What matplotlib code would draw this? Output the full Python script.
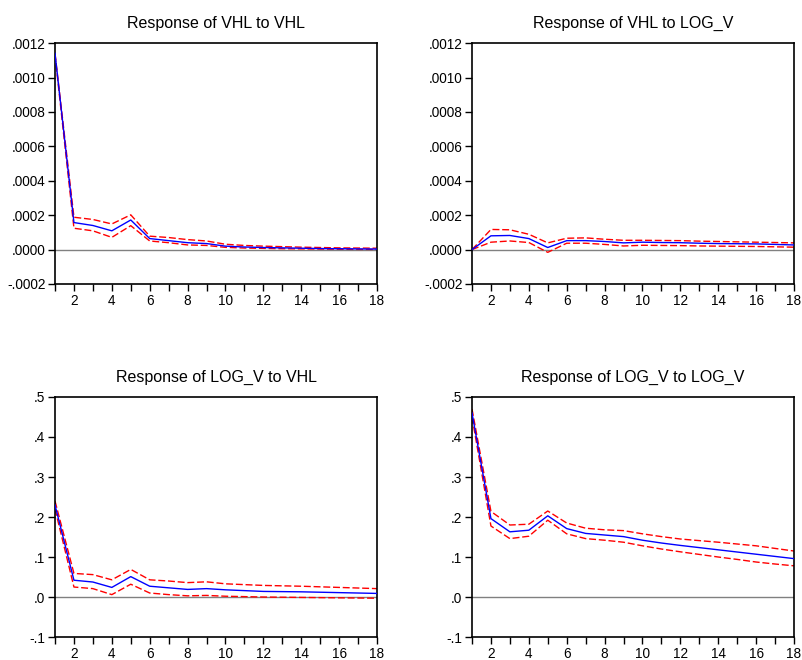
import matplotlib
matplotlib.use("Agg")
import matplotlib.pyplot as plt
from matplotlib.ticker import FuncFormatter

plt.rcParams["font.family"] = ["Liberation Sans", "DejaVu Sans"]

periods = list(range(1, 19))

# impulse responses (point estimate, upper and lower band)
vhl_vhl = [0.00114, 0.000157, 0.000140, 0.000109, 0.000172, 0.000064, 0.000052, 0.000040,
           0.000035, 0.000020, 0.000015, 0.000012, 0.000010, 0.000008, 0.000006, 0.000005,
           0.000004, 0.000003]
vhl_vhl_hi = [0.00114, 0.000188, 0.000175, 0.000149, 0.000202, 0.000078, 0.000070, 0.000058,
              0.000050, 0.000031, 0.000024, 0.000020, 0.000017, 0.000014, 0.000012, 0.000010,
              0.000009, 0.000008]
vhl_vhl_lo = [0.00113, 0.000124, 0.000109, 0.000071, 0.000139, 0.000050, 0.000040, 0.000027,
              0.000024, 0.000013, 0.000009, 0.000007, 0.000005, 0.000004, 0.000003, 0.000002,
              0.000001, 0.000001]

vhl_logv = [0.0, 0.000080, 0.000082, 0.000064, 0.000012, 0.000052, 0.000052, 0.000047,
            0.000039, 0.000043, 0.000041, 0.000040, 0.000037, 0.000035, 0.000034, 0.000033,
            0.000030, 0.000027]
vhl_logv_hi = [0.0, 0.000117, 0.000115, 0.000089, 0.000039, 0.000066, 0.000068, 0.000060,
               0.000054, 0.000054, 0.000053, 0.000052, 0.000049, 0.000047, 0.000045, 0.000043,
               0.000041, 0.000039]
vhl_logv_lo = [0.0, 0.000043, 0.000050, 0.000041, -0.000016, 0.000037, 0.000037, 0.000030,
               0.000021, 0.000025, 0.000024, 0.000023, 0.000021, 0.000020, 0.000019, 0.000018,
               0.000016, 0.000014]

logv_vhl = [0.230, 0.042, 0.0375, 0.024, 0.051, 0.027, 0.023, 0.019, 0.021, 0.018, 0.016,
            0.014, 0.0135, 0.013, 0.012, 0.011, 0.010, 0.009]
logv_vhl_hi = [0.240, 0.059, 0.056, 0.043, 0.069, 0.043, 0.040, 0.036, 0.038, 0.033, 0.031,
               0.029, 0.028, 0.027, 0.0255, 0.024, 0.0225, 0.021]
logv_vhl_lo = [0.220, 0.025, 0.021, 0.006, 0.032, 0.010, 0.006, 0.003, 0.004, 0.002, 0.001,
               0.0, -0.0005, -0.001, -0.0015, -0.002, -0.0025, -0.003]

logv_logv = [0.460, 0.196, 0.163, 0.167, 0.203, 0.171, 0.159, 0.155, 0.151, 0.142, 0.135,
             0.129, 0.1235, 0.118, 0.1125, 0.107, 0.1015, 0.096]
logv_logv_hi = [0.470, 0.214, 0.180, 0.182, 0.215, 0.185, 0.172, 0.168, 0.166, 0.158, 0.151,
                0.145, 0.141, 0.137, 0.1325, 0.128, 0.1215, 0.115]
logv_logv_lo = [0.450, 0.1775, 0.146, 0.152, 0.192, 0.158, 0.146, 0.142, 0.137, 0.128, 0.120,
                0.113, 0.1065, 0.100, 0.094, 0.0875, 0.0825, 0.078]

titles = ["Response of VHL to VHL", "Response of VHL to LOG_V",
          "Response of LOG_V to VHL", "Response of LOG_V to LOG_V"]


def strip_zero(fmt):
    def f(v, pos):
        s = fmt % v
        if s.startswith("-0."):
            return "-" + s[2:]
        if s.startswith("0."):
            return s[1:]
        return s
    return FuncFormatter(f)


def draw_panel(ax, title, mid, hi, lo, ylim, step, fmt):
    ax.axhline(0, color="#808080", linewidth=1.0, zorder=1)
    ax.plot(periods, hi, color="#ff0000", linestyle=(0, (5, 2)), linewidth=1.0, zorder=2)
    ax.plot(periods, lo, color="#ff0000", linestyle=(0, (5, 2)), linewidth=1.0, zorder=2)
    ax.plot(periods, mid, color="#0000ff", linewidth=1.0, zorder=3)
    ax.set_xlim(1, 18)
    ax.set_ylim(*ylim)
    n = int(round((ylim[1] - ylim[0]) / step))
    ax.set_yticks([ylim[0] + i * step for i in range(n + 1)])
    ax.yaxis.set_major_formatter(strip_zero(fmt))
    ax.set_xticks(periods)
    ax.set_xticklabels([str(p) if p % 2 == 0 else "" for p in periods])
    ax.tick_params(direction="out", length=5, width=1, labelsize=9.8, pad=2, colors="black")
    for sp in ax.spines.values():
        sp.set_linewidth(1.2)
    ax.set_title(title, fontsize=11.5, pad=11)


fig = plt.figure(figsize=(8.03, 6.6), dpi=100)
w, h = 0.401, 0.365
ax1 = fig.add_axes([0.0685, 0.5697, w, h])
ax2 = fig.add_axes([0.5878, 0.5697, w, h])
ax3 = fig.add_axes([0.0685, 0.0348, w, 0.3637])
ax4 = fig.add_axes([0.5878, 0.0348, w, 0.3637])

draw_panel(ax1, titles[0], vhl_vhl, vhl_vhl_hi, vhl_vhl_lo, (-0.0002, 0.0012), 0.0002, "%.4f")
draw_panel(ax2, titles[1], vhl_logv, vhl_logv_hi, vhl_logv_lo, (-0.0002, 0.0012), 0.0002, "%.4f")
draw_panel(ax3, titles[2], logv_vhl, logv_vhl_hi, logv_vhl_lo, (-0.1, 0.5), 0.1, "%.1f")
draw_panel(ax4, titles[3], logv_logv, logv_logv_hi, logv_logv_lo, (-0.1, 0.5), 0.1, "%.1f")

fig.savefig("out.png", dpi=100)
